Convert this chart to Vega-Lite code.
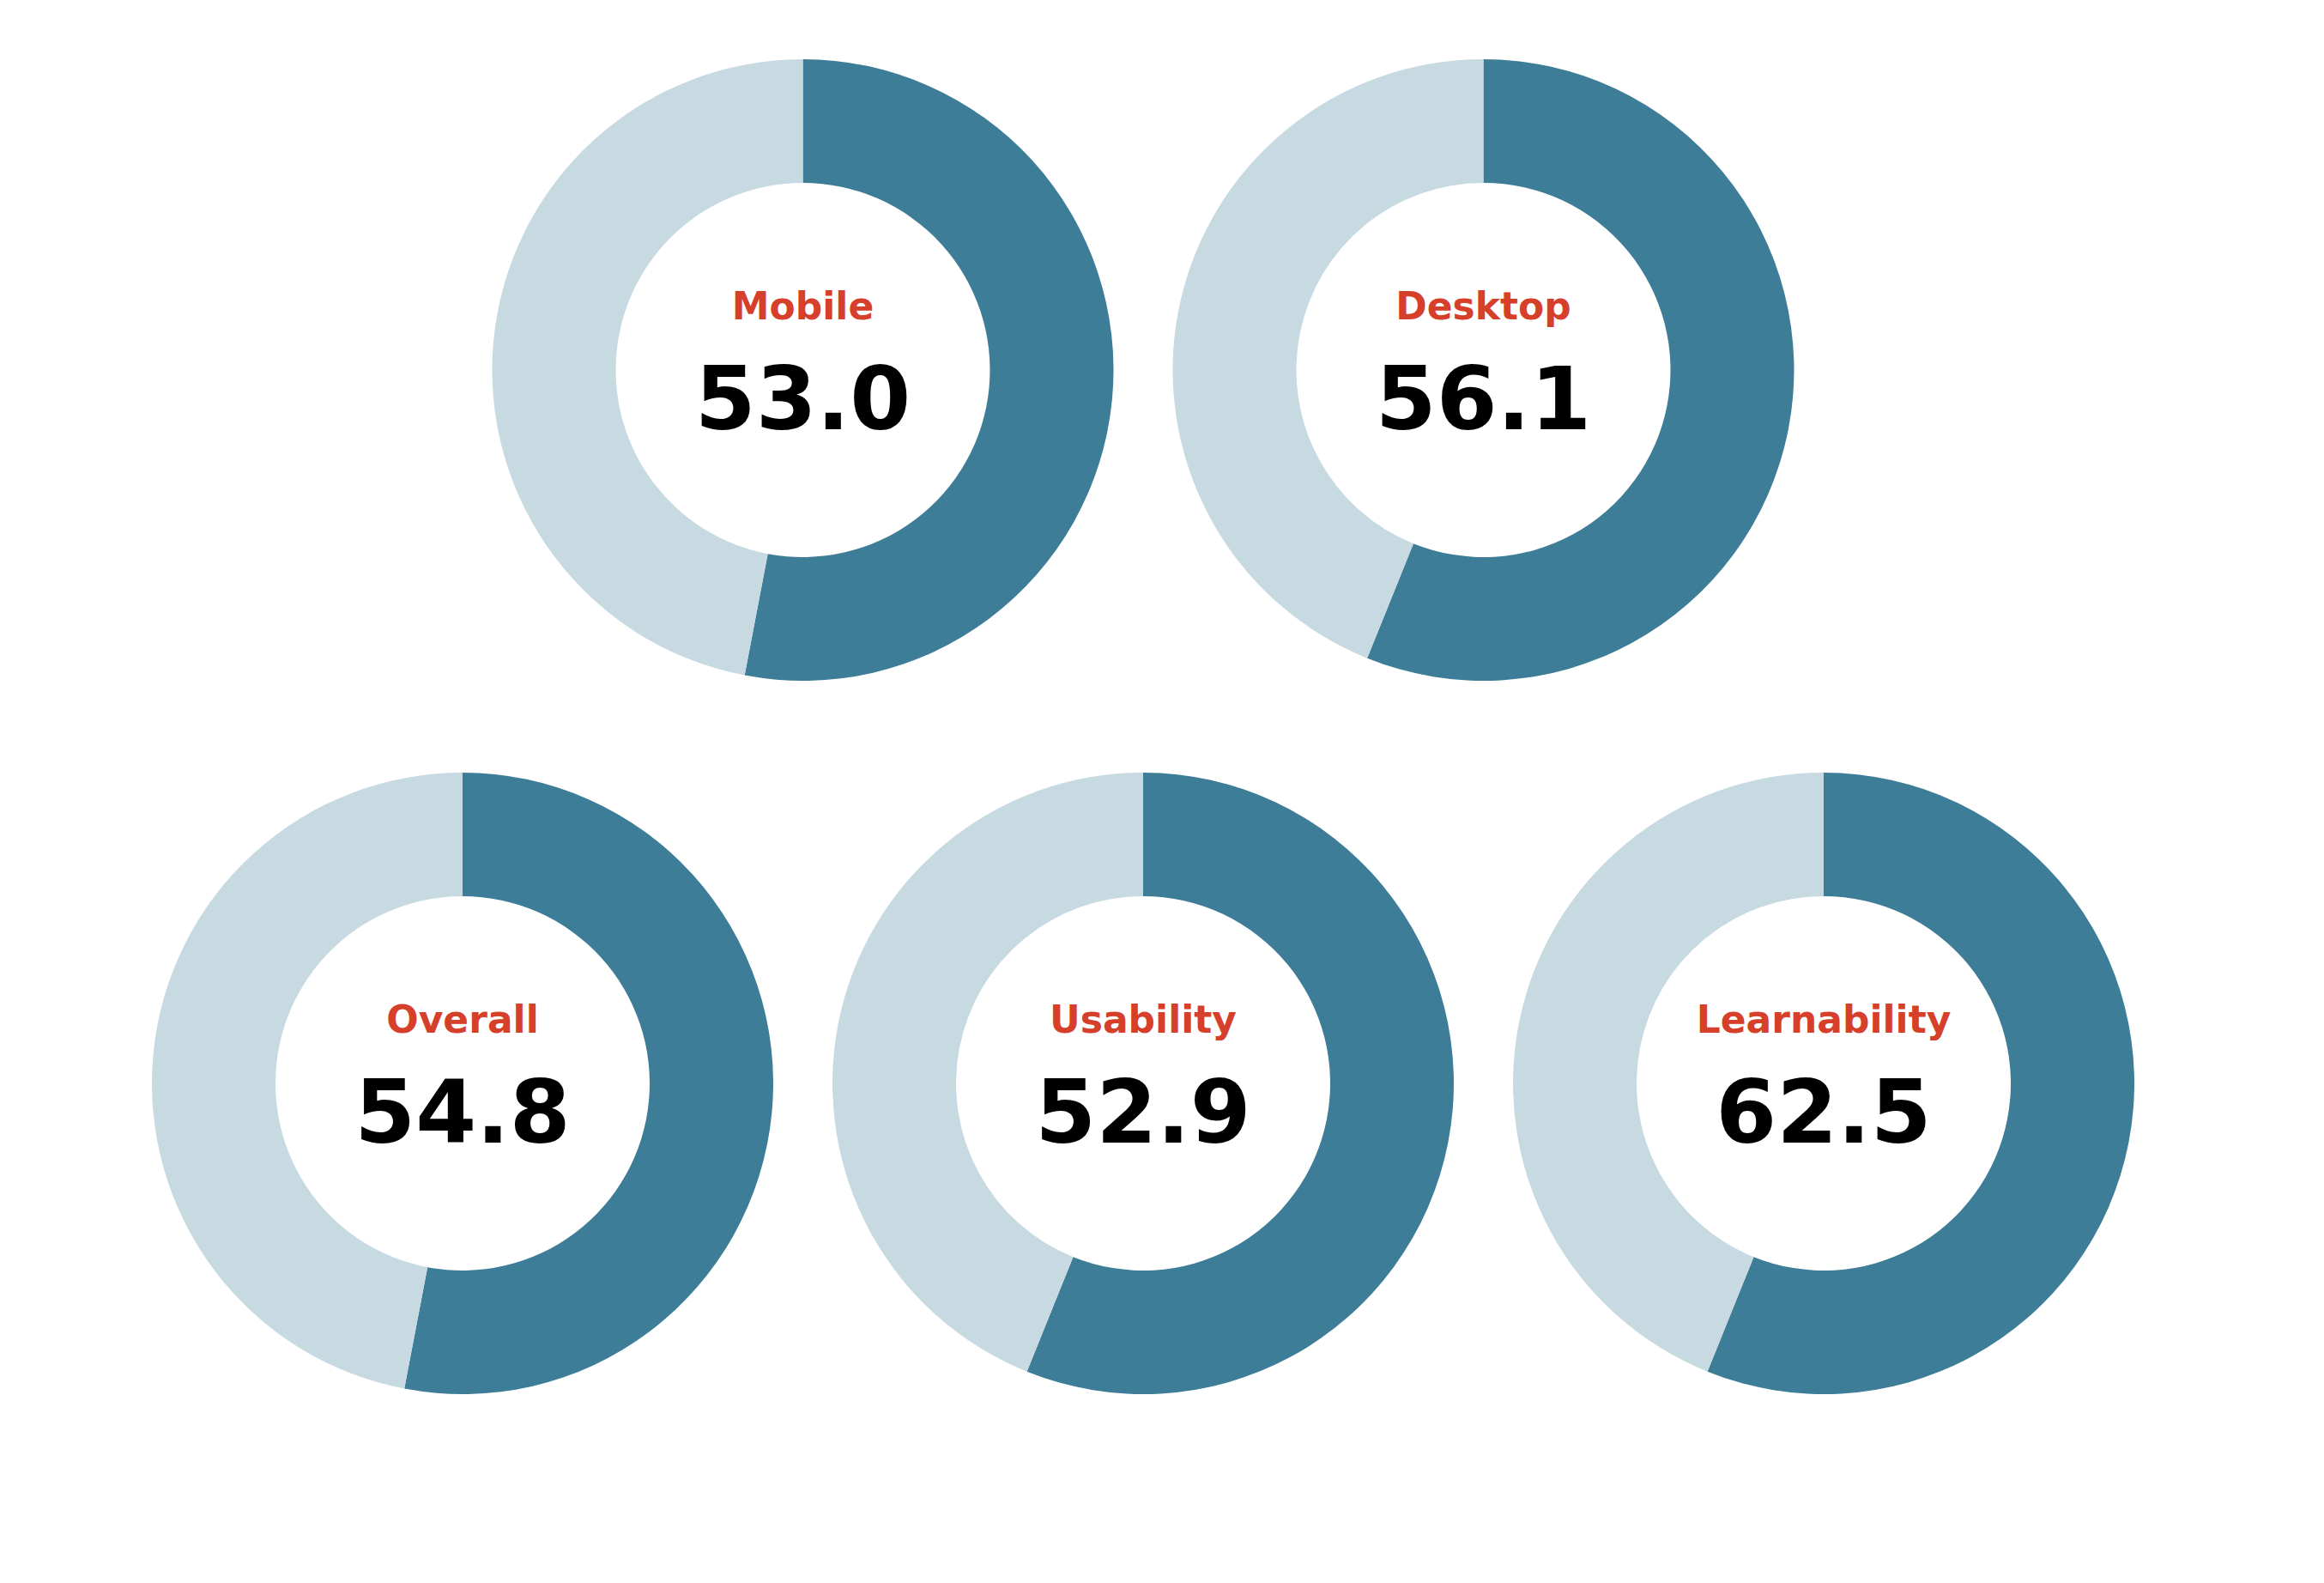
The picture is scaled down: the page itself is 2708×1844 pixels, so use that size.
{
  "$schema": "https://vega.github.io/schema/vega-lite/v6.json",
  "width": 2708,
  "height": 1844,
  "autosize": {"type": "fit", "contains": "padding"},
  "padding": 0,
  "background": "white",
  "config": {"view": {"stroke": null}},
  "datasets": {
    "segments": [
      {"name": "Overall", "col": 0, "row": 1, "part": "score", "start": 0, "end": 53.0},
      {"name": "Overall", "col": 0, "row": 1, "part": "rest", "start": 53.0, "end": 100},
      {"name": "Mobile", "col": 1, "row": 0, "part": "score", "start": 0, "end": 53.0},
      {"name": "Mobile", "col": 1, "row": 0, "part": "rest", "start": 53.0, "end": 100},
      {"name": "Usability", "col": 2, "row": 1, "part": "score", "start": 0, "end": 56.1},
      {"name": "Usability", "col": 2, "row": 1, "part": "rest", "start": 56.1, "end": 100},
      {"name": "Desktop", "col": 3, "row": 0, "part": "score", "start": 0, "end": 56.1},
      {"name": "Desktop", "col": 3, "row": 0, "part": "rest", "start": 56.1, "end": 100},
      {"name": "Learnability", "col": 4, "row": 1, "part": "score", "start": 0, "end": 56.1},
      {"name": "Learnability", "col": 4, "row": 1, "part": "rest", "start": 56.1, "end": 100}
    ],
    "labels": [
      {"name": "Overall", "col": 0, "row": 1, "score": 54.8},
      {"name": "Mobile", "col": 1, "row": 0, "score": 53.0},
      {"name": "Usability", "col": 2, "row": 1, "score": 52.9},
      {"name": "Desktop", "col": 3, "row": 0, "score": 56.1},
      {"name": "Learnability", "col": 4, "row": 1, "score": 62.5}
    ]
  },
  "encoding": {
    "x": {"field": "col", "type": "quantitative", "scale": {"domain": [0, 4], "range": [539, 2125], "zero": false, "nice": false}, "axis": null},
    "y": {"field": "row", "type": "quantitative", "scale": {"domain": [0, 1], "range": [431, 1262], "zero": false, "nice": false}, "axis": null}
  },
  "layer": [
    {
      "data": {"name": "segments"},
      "mark": {"type": "arc", "radius": 362, "radius2": 218},
      "encoding": {
        "theta": {"field": "start", "type": "quantitative", "stack": null, "scale": {"domain": [0, 100], "range": [0, 6.283185307179586]}},
        "theta2": {"field": "end"},
        "color": {"field": "part", "type": "nominal", "scale": {"domain": ["score", "rest"], "range": ["#3e7d97", "#c7d9e1"]}, "legend": null}
      }
    },
    {
      "data": {"name": "labels"},
      "mark": {"type": "text", "dy": -59, "baseline": "alphabetic", "align": "center", "font": "DejaVu Sans", "fontWeight": "bold", "fontSize": 44, "color": "#d63f2a"},
      "encoding": {"text": {"field": "name", "type": "nominal"}}
    },
    {
      "data": {"name": "labels"},
      "mark": {"type": "text", "dy": 69, "baseline": "alphabetic", "align": "center", "font": "DejaVu Sans", "fontWeight": "bold", "fontSize": 102, "color": "#000000"},
      "encoding": {"text": {"field": "score", "type": "quantitative", "format": ".1f"}}
    }
  ]
}
